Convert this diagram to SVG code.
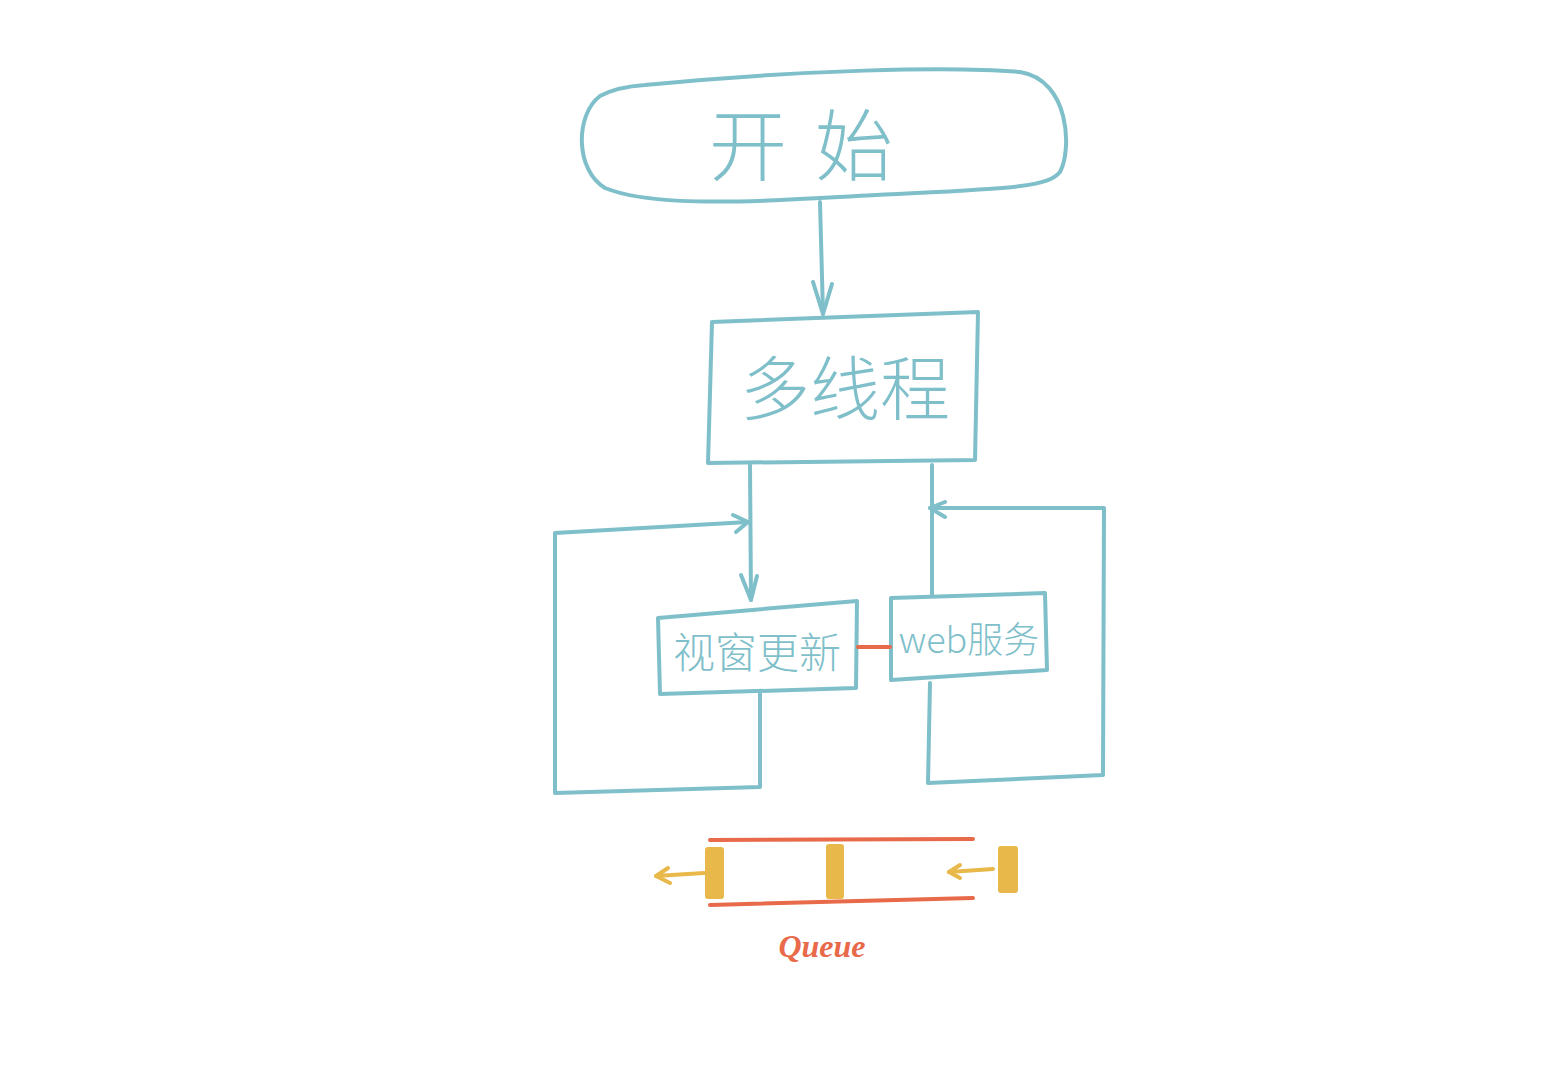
<svg xmlns="http://www.w3.org/2000/svg" width="1546" height="1080" viewBox="0 0 1546 1080">
<defs>
<style>
.t{fill:none;stroke:#7fbfca;stroke-width:4;stroke-linecap:round;stroke-linejoin:round}
.r{fill:none;stroke:#e86a4a;stroke-width:4;stroke-linecap:round}
.y{fill:none;stroke:#e8b84a;stroke-width:4;stroke-linecap:round;stroke-linejoin:round}
.bar{fill:#e8b84a}
.lbl{fill:#7fbfca;font-family:"Noto Sans CJK SC","Liberation Sans",sans-serif;text-anchor:middle}
</style>
</defs>
<rect width="1546" height="1080" fill="#ffffff"/>
<g id="start">
<path class="t" d="M645,85 C800,70 950,66 1020,72 C1070,80 1072,150 1060,172 C1045,190 1000,188 820,198 C700,205 640,202 605,188 C575,170 575,115 600,96 C615,88 630,86 645,85 Z"/>
<text class="lbl" x="815" y="175" font-size="78" font-weight="300" letter-spacing="28">开始</text>
</g>
<g id="multithread">
<path class="t" d="M712,322 L978,312 L975,460 L708,463 Z"/>
<text class="lbl" x="845" y="415" font-size="70" font-weight="300">多线程</text>
</g>
<g id="window">
<path class="t" d="M658,618 L857,601 L856,688 L660,694 Z"/>
<text class="lbl" x="757" y="668" font-size="42" font-weight="300">视窗更新</text>
</g>
<g id="web">
<path class="t" d="M891,598 L1045,593 L1047,670 L891,680 Z"/>
<text class="lbl" x="969" y="653" font-size="36" font-weight="300">web服务</text>
</g>
<g id="connectors">
<path class="t" d="M820,202 L823,314"/>
<path class="t" d="M813,282 L823,314 L832,284"/>
<path class="t" d="M750,465 L751,600"/>
<path class="t" d="M741,575 L751,600 L757,576"/>
<path class="t" d="M932,465 L932,595"/>
<path class="t" d="M760,694 L760,787 L555,793 L555,533 L748,522"/>
<path class="t" d="M733,515 L748,522 L736,532"/>
<path class="t" d="M930,683 L928,783 L1103,775 L1104,508 L930,508"/>
<path class="t" d="M945,502 L930,508 L945,517"/>
<path class="r" d="M858,647 L890,647"/>
</g>
<g id="queue">
<path class="r" d="M710,840 L973,839"/>
<path class="r" d="M710,905 L973,898"/>
<rect class="bar" x="705" y="847" width="19" height="52" rx="3"/>
<rect class="bar" x="826" y="844" width="18" height="55" rx="3"/>
<rect class="bar" x="998" y="846" width="20" height="47" rx="3"/>
<path class="y" d="M704,873 L656,876"/>
<path class="y" d="M668,868 L656,876 L670,883"/>
<path class="y" d="M993,869 L949,872"/>
<path class="y" d="M960,865 L949,872 L960,878"/>
<text x="822" y="957" font-family="'Liberation Serif',serif" font-style="italic" font-weight="bold" font-size="32" fill="#e86a4a" text-anchor="middle">Queue</text>
</g>
</svg>
